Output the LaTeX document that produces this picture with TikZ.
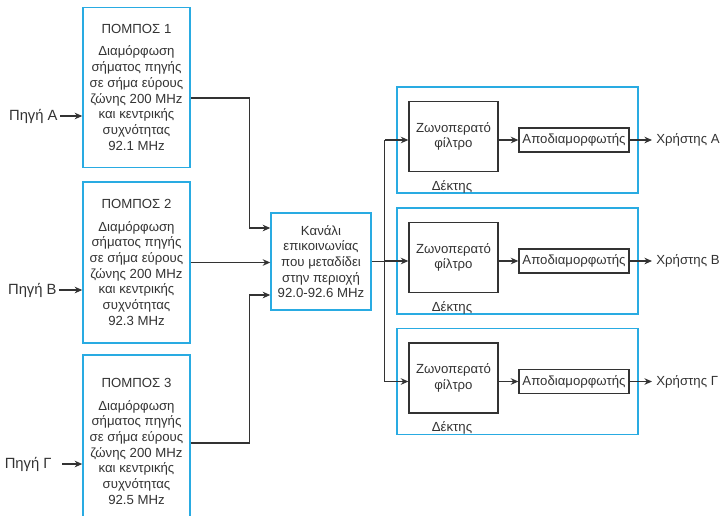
\documentclass[tikz,border=0pt]{standalone}
\usepackage{fontspec}
\setmainfont{Liberation Sans}
\usetikzlibrary{arrows.meta}

\definecolor{boxblue}{HTML}{29ABE2}
\definecolor{ink}{HTML}{333333}

% one receiver: name, y of its centre, user
\def\receiver#1#2#3{%
	\node[rx] (rx#1) at (517.5,#2) {};
	\node[blk, minimum width=44.5pt, minimum height=35pt] (bpf#1) at (453.5,#2-3.5) {Ζωνοπερατό\\φίλτρο};
	\node[blk, minimum width=55pt, minimum height=12pt] (dem#1) at (574,#2) {Αποδιαμορφωτής};
	\node (lbl#1) at (452,#2+46.5) {Δέκτης};
	\node[anchor=west, inner sep=2pt] (usr#1) at (652,#2) {#3};
	\draw[arr] (bus |- dem#1) -- (bpf#1.west |- dem#1);
	\draw[arr] (bpf#1.east |- dem#1) -- (dem#1);
	\draw[arr] (dem#1) -- (usr#1);
}

\begin{document}
\begin{tikzpicture}[x=0.5pt, y=-0.5pt,
	every node/.style={font=\fontsize{6.6}{7.85}\selectfont, text=ink},
	tx/.style={draw=boxblue, line width=0.75pt, minimum width=53.5pt, align=center, inner sep=0pt},
	rx/.style={draw=boxblue, line width=0.75pt, minimum width=120.5pt, minimum height=53pt},
	blk/.style={draw=ink, line width=0.65pt, align=center, inner sep=0pt},
	src/.style={anchor=east, inner sep=1pt, font=\fontsize{7.4}{8.8}\selectfont},
	arr/.style={draw=ink, line width=0.6pt, -{Stealth[length=3.8pt, width=3.3pt]}},
	wire/.style={draw=ink, line width=0.6pt}]
	\useasboundingbox (0,0) rectangle (721,515);
	\clip (0,0) rectangle (721,515);

	% transmitters
	\node[tx, minimum height=80pt] (tx1) at (136.5,87.5)
		{ΠΟΜΠΟΣ 1\\[3.2pt]Διαμόρφωση\\σήματος πηγής\\σε σήμα εύρους\\ζώνης 200 MHz\\και κεντρικής\\συχνότητας\\92.1 MHz};
	\node[tx, minimum height=80.5pt] (tx2) at (136.5,262.5)
		{ΠΟΜΠΟΣ 2\\[3.2pt]Διαμόρφωση\\σήματος πηγής\\σε σήμα εύρους\\ζώνης 200 MHz\\και κεντρικής\\συχνότητας\\92.3 MHz};
	\node[tx, minimum height=86.5pt] (tx3) at (136.5,441.5)
		{ΠΟΜΠΟΣ 3\\[3.2pt]Διαμόρφωση\\σήματος πηγής\\σε σήμα εύρους\\ζώνης 200 MHz\\και κεντρικής\\συχνότητας\\92.5 MHz};

	\node[src] (srcA) at (60,116) {Πηγή Α};
	\node[src] (srcB) at (59,290) {Πηγή Β};
	\node[src] (srcC) at (54,464) {Πηγή Γ};
	\draw[arr] (srcA) -- (srcA -| tx1.west);
	\draw[arr] (srcB) -- (srcB -| tx2.west);
	\draw[arr] ([xshift=4pt]srcC.east) -- (srcC -| tx3.west);

	% channel
	\node[tx, minimum width=50pt, minimum height=48.5pt] (chan) at (321,261.5)
		{Κανάλι\\επικοινωνίας\\που μεταδίδει\\στην περιοχή\\92.0-92.6 MHz};
	\draw[arr] ([yshift=-5.25pt]tx1.east) -- ++(59,0) |- ([yshift=16.75pt]chan.west);
	\draw[arr] (tx2.east) -- (tx2.east -| chan.west);
	\draw[arr] ([yshift=-0.75pt]tx3.east) -- ++(59,0) |- ([yshift=-16.75pt]chan.west);

	% receivers
	\draw[wire] (chan.east) -- ++(13,0) coordinate (bus);
	\receiver{1}{140}{Χρήστης Α}
	\receiver{2}{261}{Χρήστης Β}
	\receiver{3}{381.5}{Χρήστης Γ}
	\draw[wire] (bus |- dem1) -- (bus |- dem3);
\end{tikzpicture}
\end{document}
